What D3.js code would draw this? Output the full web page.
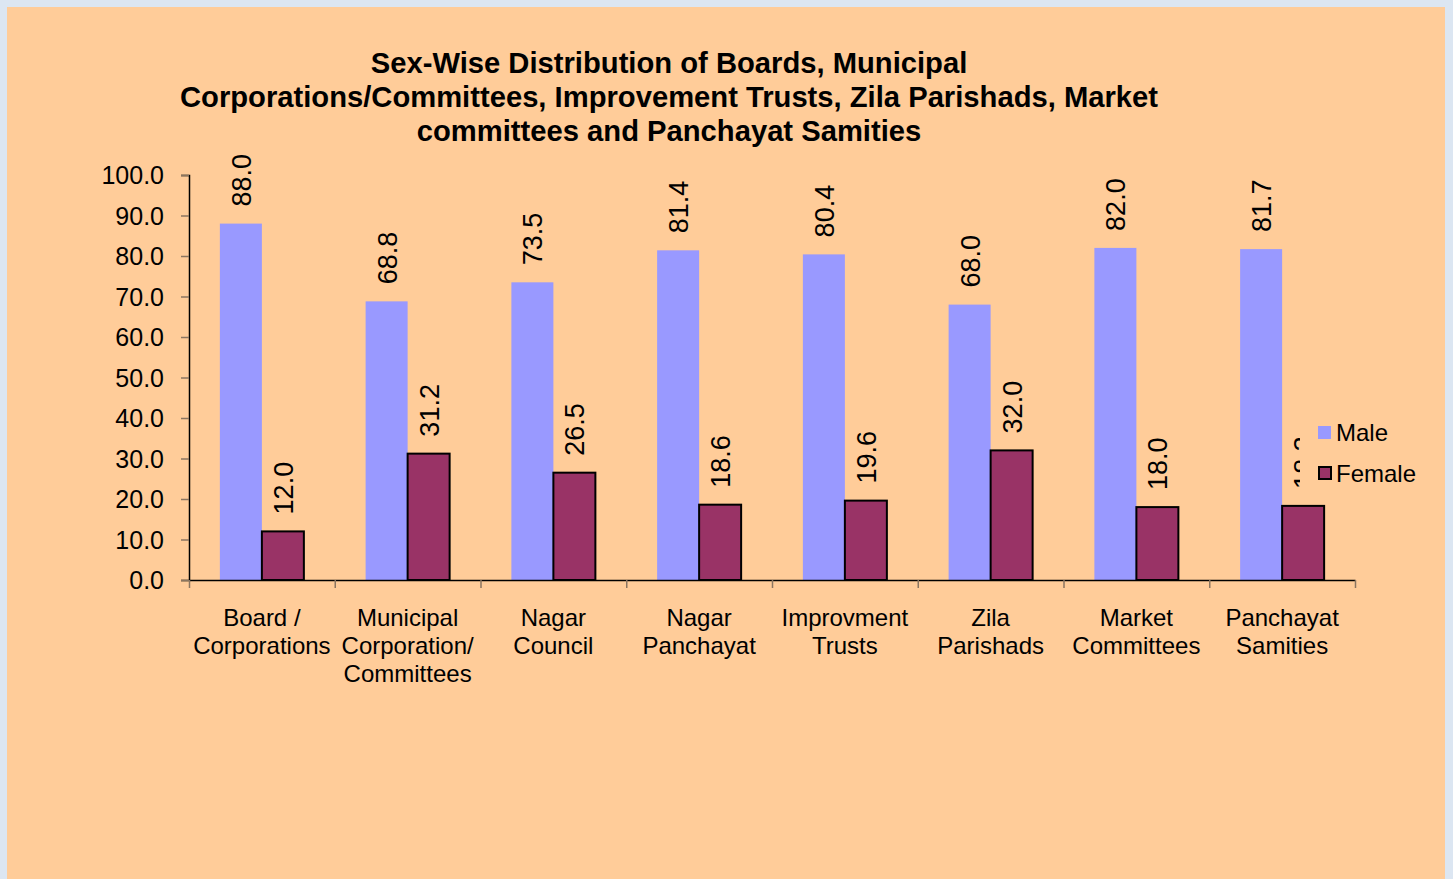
<!DOCTYPE html>
<html>
<head>
<meta charset="utf-8">
<script src="https://cdn.jsdelivr.net/npm/d3@7"></script>
<style>
  body { margin: 0; background: #dce6f2; }
  svg { display: block; font-family: "Liberation Sans", Arial, sans-serif; }
</style>
</head>
<body>
<div id="root"></div>
<script>
const categories = [
  ["Board /", "Corporations"],
  ["Municipal", "Corporation/", "Committees"],
  ["Nagar", "Council"],
  ["Nagar", "Panchayat"],
  ["Improvment", "Trusts"],
  ["Zila", "Parishads"],
  ["Market", "Committees"],
  ["Panchayat", "Samities"]
];
const male = [88.0, 68.8, 73.5, 81.4, 80.4, 68.0, 82.0, 81.7];
const female = [12.0, 31.2, 26.5, 18.6, 19.6, 32.0, 18.0, 18.3];
const yTicks = [0, 10, 20, 30, 40, 50, 60, 70, 80, 90, 100];
const titleLines = [
  "Sex-Wise Distribution of Boards, Municipal",
  "Corporations/Committees, Improvement Trusts, Zila Parishads, Market",
  "committees and Panchayat Samities"
];

const W = 1453, H = 879;
const plotLeft = 189, plotRight = 1355, plotTop = 175, plotBottom = 580;

let svg = d3.select("#root").append("svg")
  .attr("width", W).attr("height", H);

svg.append("rect")
  .attr("x", 7).attr("y", 7)
  .attr("width", 1438).attr("height", H)
  .attr("fill", "#ffcc99");

// title
svg.append("text")
  .attr("text-anchor", "middle")
  .style("font-size", "29.2px")
  .style("font-weight", "bold")
  .selectAll("tspan")
  .data(titleLines)
  .enter()
  .append("tspan")
  .attr("x", 669)
  .attr("y", (d, i) => 73 + i * 34)
  .text(d => d);

let x = d3.scaleBand().domain(d3.range(categories.length)).range([plotLeft, plotRight]);
let y = d3.scaleLinear().domain([0, 100]).range([plotBottom, plotTop]);
let barW = 42;
let pad = (x.bandwidth() - 2 * barW) / 2;

// y axis
let yAxis = d3.axisLeft(y).tickValues(yTicks).tickFormat(d3.format(".1f")).tickSize(8).tickPadding(17);
let gy = svg.append("g").attr("transform", `translate(${plotLeft},0)`).call(yAxis);
gy.select(".domain").attr("stroke", "#000").attr("stroke-width", 1.5);
gy.selectAll(".tick line").attr("stroke", "#8a7560").attr("stroke-width", 1.5);
gy.selectAll(".tick text").style("font-size", "25px").attr("fill", "#000")
  .attr("dy", "0.35em")
  .attr("font-family", "Liberation Sans, Arial, sans-serif");

// bars
let groups = svg.append("g").selectAll("g")
  .data(categories)
  .enter()
  .append("g");

groups.append("rect")
  .attr("x", (d, i) => x(i) + pad)
  .attr("y", (d, i) => y(male[i]))
  .attr("width", barW)
  .attr("height", (d, i) => plotBottom - y(male[i]))
  .attr("fill", "#9999ff");

groups.append("rect")
  .attr("x", (d, i) => x(i) + pad + barW)
  .attr("y", (d, i) => y(female[i]))
  .attr("width", barW)
  .attr("height", (d, i) => plotBottom - y(female[i]))
  .attr("fill", "#993366")
  .attr("stroke", "#000")
  .attr("stroke-width", 2);

// x axis
let xb = d3.scaleLinear().domain([0, categories.length]).range([plotLeft, plotRight]);
let xAxis = d3.axisBottom(xb).ticks(categories.length).tickFormat("").tickSize(8).tickSizeOuter(0);
let gx = svg.append("g").attr("transform", `translate(0,${plotBottom})`).call(xAxis);
gx.select(".domain").attr("stroke", "#000").attr("stroke-width", 1.5);
gx.selectAll(".tick line").attr("stroke", "#8a7560").attr("stroke-width", 1.5);

// category labels
groups.append("text")
  .attr("text-anchor", "middle")
  .style("font-size", "24px")
  .selectAll("tspan")
  .data((d, i) => d.map(t => ({ t: t, i: i })))
  .enter()
  .append("tspan")
  .attr("x", d => x(d.i) + x.bandwidth() / 2)
  .attr("y", (d, j) => 626 + j * 28)
  .text(d => d.t);

// value labels
function valueLabel(vals, off) {
  groups.append("text")
    .attr("transform", (d, i) => {
      let cx = x(i) + pad + off + barW / 2 + 10;
      return `translate(${cx},${y(vals[i]) - 17}) rotate(-90)`;
    })
    .style("font-size", "27px")
    .text((d, i) => vals[i].toFixed(1));
}
valueLabel(male, 0);
valueLabel(female, barW);

// legend (its background covers part of the last label, as in the original)
let lg = svg.append("g").attr("transform", "translate(1318,0)");
lg.append("rect").attr("x", -18).attr("y", 412).attr("width", 125).attr("height", 86).attr("fill", "#ffcc99");
lg.append("rect").attr("x", 0).attr("y", 426).attr("width", 13).attr("height", 13).attr("fill", "#9999ff");
lg.append("rect").attr("x", 1).attr("y", 467).attr("width", 12).attr("height", 12)
  .attr("fill", "#993366").attr("stroke", "#000").attr("stroke-width", 2);
lg.append("text").attr("x", 18).attr("y", 441).style("font-size", "24px").text("Male");
lg.append("text").attr("x", 18).attr("y", 482).style("font-size", "24px").text("Female");
</script>
</body>
</html>
